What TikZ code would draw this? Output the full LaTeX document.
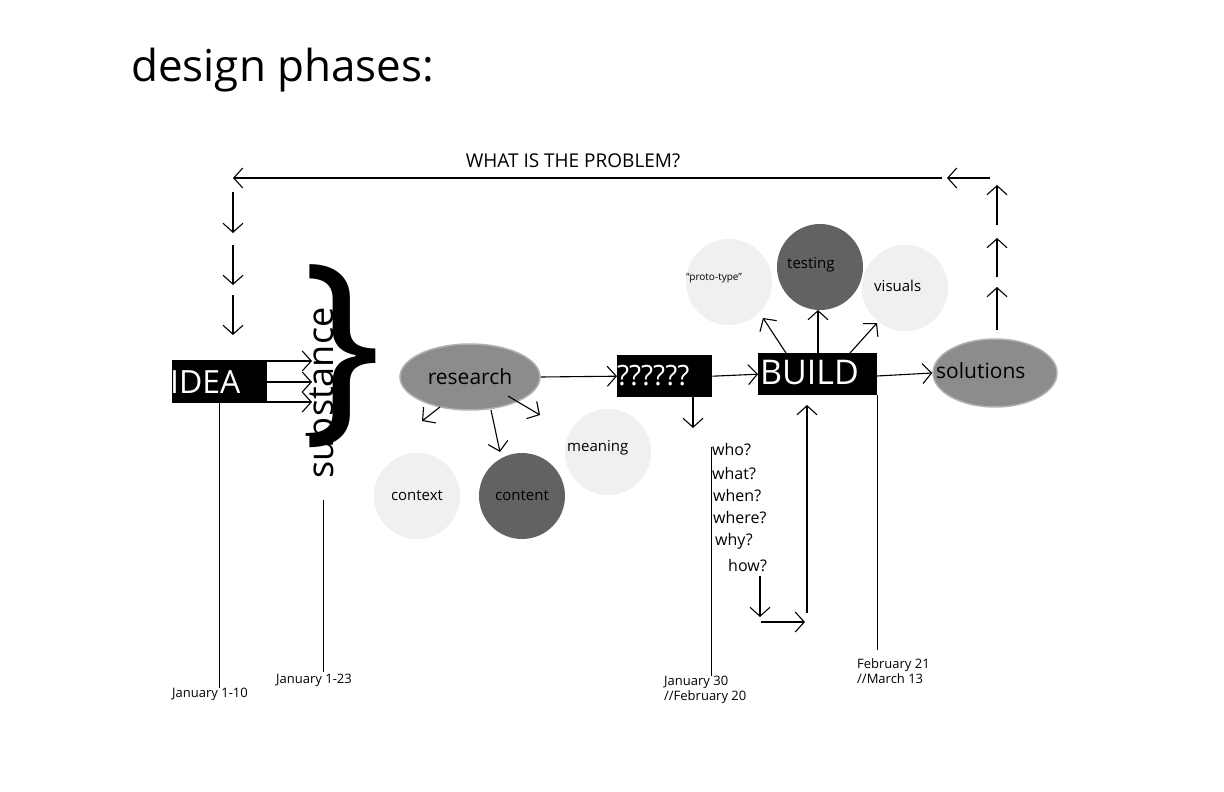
\documentclass[tikz,border=0pt]{standalone}
\usepackage{fontspec}
\setmainfont{Open Sans}
\usetikzlibrary{arrows.meta,shapes.geometric}
\definecolor{lite}{HTML}{EFF0EF}
\definecolor{dark}{HTML}{616264}
\definecolor{mid}{HTML}{8B8C8E}
\begin{document}
\begin{tikzpicture}[x=1pt,y=-1pt,
  arr/.style={-{Straight Barb[length=9pt,width=20pt]},line width=1.1pt},
  thin/.style={line width=0.6pt},
  blk/.style={fill=black,text=white,inner sep=0pt,anchor=north west},
  circ/.style={circle,minimum size=86pt,inner sep=0pt,font=\fontsize{15}{15}\selectfont},
  ell/.style={ellipse,draw=gray!60,line width=1.5pt,fill=mid,font=\fontsize{21}{21}\selectfont},
  lab/.style={anchor=north west,inner sep=0pt,align=left,font=\fontsize{13}{15}\selectfont},
  q/.style={anchor=west,inner sep=0pt,font=\fontsize{16}{16}\selectfont}]
\useasboundingbox[fill=white] (0,0) rectangle (1224,792);
\node[anchor=west,inner sep=0pt,font=\fontsize{44}{44}\selectfont] (title) at (131,70) {design phases:};
\node[font=\fontsize{19}{19}\selectfont] (prob) at (573,161) {WHAT IS THE PROBLEM?};
% top loop
\coordinate (t0) at (990,178); \coordinate (t1) at (947,178);
\coordinate (t2) at (942,178); \coordinate (t3) at (233,178);
\draw[arr] (t0) -- (t1);
\draw[arr] (t2) -- (t3);
\foreach \a/\b [count=\i] in {192/233,245/285,295/335}{
  \coordinate (da\i) at (233,\a); \coordinate (db\i) at (233,\b);
  \draw[arr] (da\i) -- (db\i);}
\foreach \a/\b [count=\i] in {330/287,277/238,225/185}{
  \coordinate (ua\i) at (997,\a); \coordinate (ub\i) at (997,\b);
  \draw[arr] (ua\i) -- (ub\i);}
% IDEA
\node[blk,minimum width=95pt,minimum height=43pt] (idea) at (172,360) {};
\node[anchor=west,text=white,inner sep=0pt,font=\fontsize{32}{32}\selectfont] at (170,382) {IDEA};
\foreach \y [count=\i] in {361,382,402}{
  \coordinate (ia\i) at (267,\y); \coordinate (ib\i) at (312,\y);
  \draw[arr] (ia\i) -- (ib\i);}
\node[rotate=90,inner sep=0pt,font=\fontsize{36}{36}\selectfont] (subst) at (320,393) {substance};
\node[inner sep=0pt,font=\fontsize{210}{210}\selectfont] (brace) at (342,356) {\}};
\coordinate (l1a) at (219,403); \coordinate (l1b) at (219,688);
\draw[thin] (l1a) -- (l1b);
\node[lab] (d1) at (172,688) {January 1-10};
\coordinate (l2a) at (323,500); \coordinate (l2b) at (323,672);
\draw[thin] (l2a) -- (l2b);
\node[lab] (d2) at (276,674) {January 1-23};
% research
\node[ell,minimum width=140pt,minimum height=66pt] (research) at (470,377) {research};
\node[circ,fill=lite] (context) at (417,496) {context};
\node[circ,fill=dark] (content) at (522,496) {content};
\node[circ,fill=lite] (meaning) at (608,452) {};
\node[q,font=\fontsize{15}{15}\selectfont] at (567,448) {meaning};
\coordinate (r1) at (440,407); \coordinate (r1b) at (422,421);
\coordinate (r2) at (491,410); \coordinate (r2b) at (500,452);
\coordinate (r3) at (508,396); \coordinate (r3b) at (540,415);
\draw[arr] (r1) -- (r1b);
\draw[arr] (r2) -- (r2b);
\draw[arr] (r3) -- (r3b);
% ??????
\node[blk,minimum width=95pt,minimum height=42pt] (qq) at (617,355) {};
\node[anchor=west,text=white,inner sep=0pt,font=\fontsize{28}{28}\selectfont] at (617,376) {??????};
\draw[arr] (research.east) -- (qq.west);
\coordinate (qd1) at (693,397); \coordinate (qd2) at (693,428);
\draw[arr] (qd1) -- (qd2);
% BUILD
\node[blk,minimum width=119pt,minimum height=42pt] (build) at (758,353) {};
\node[anchor=west,text=white,inner sep=0pt,font=\fontsize{34}{34}\selectfont] at (760,373) {BUILD};
\draw[arr] (qq.east) -- (build.west);
\node[circ,fill=lite] (proto) at (729,282) {};
\node[q,font=\fontsize{10}{10}\selectfont] at (686,278) {“proto-type”};
\node[circ,fill=dark] (testing) at (820,267) {};
\node[q,font=\fontsize{15}{15}\selectfont] at (787,265) {testing};
\node[circ,fill=lite] (visuals) at (905,288) {};
\node[q,font=\fontsize{15}{15}\selectfont] at (874,286) {visuals};
\coordinate (b1) at (786,353); \coordinate (b1b) at (763,318);
\coordinate (b2) at (818,353); \coordinate (b2b) at (818,310);
\coordinate (b3) at (850,353); \coordinate (b3b) at (877,323);
\draw[arr] (b1) -- (b1b);
\draw[arr] (b2) -- (b2b);
\draw[arr] (b3) -- (b3b);
% solutions
\node[ell,minimum width=124pt,minimum height=68pt] (sol) at (995,373) {};
\node[q,font=\fontsize{21}{21}\selectfont] at (936,371) {solutions};
\coordinate (bs) at (877,376);
\draw[arr] (bs) -- (sol.west);
% questions
\coordinate (qv1) at (711,447); \coordinate (qv2) at (711,676);
\draw[thin] (qv1) -- (qv2);
\node[q] (who) at (712,450) {who?};
\node[q] (what) at (712,474) {what?};
\node[q] (when) at (713,496) {when?};
\node[q] (where) at (713,518) {where?};
\node[q] (why) at (715,541) {why?};
\node[q] (how) at (728,566) {how?};
\coordinate (h1) at (760,576); \coordinate (h2) at (760,617);
\coordinate (h3) at (761,622); \coordinate (h4) at (805,622);
\coordinate (h5) at (807,613); \coordinate (h6) at (807,405);
\draw[arr] (h1) -- (h2);
\draw[arr] (h3) -- (h4);
\draw[arr] (h5) -- (h6);
\node[lab] (d3) at (664,676) {January 30\\//February 20};
\coordinate (bl1) at (877,395); \coordinate (bl2) at (877,650);
\draw[thin] (bl1) -- (bl2);
\node[lab] (d4) at (857,658) {February 21\\ //March 13};
\end{tikzpicture}
\end{document}
